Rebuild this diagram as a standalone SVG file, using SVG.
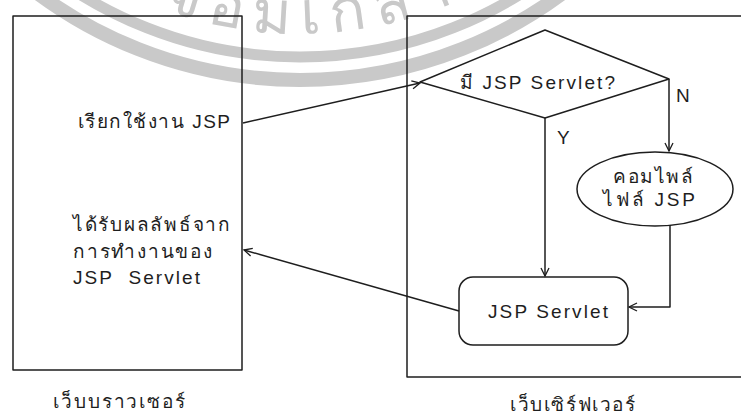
<svg xmlns="http://www.w3.org/2000/svg" width="741" height="416" viewBox="0 0 741 416">
<style>
.ln{fill:none;stroke:#1e1e1e;stroke-width:1.5;stroke-linejoin:round}
.t{font-family:"Liberation Sans","Noto Sans",sans-serif;font-size:19px;fill:#1e1e1e}
.c{text-anchor:middle}
.wm{fill:none;stroke:#c9c9c9}
</style>
<defs>
<marker id="ah" markerUnits="userSpaceOnUse" markerWidth="12" markerHeight="12" refX="9" refY="5" orient="auto">
<path d="M1,1 L9,5 L1,9" fill="none" stroke="#1e1e1e" stroke-width="1.3"/>
</marker>
<path id="wmArc" d="M -60,-200 A 394 394 0 0 0 660,-200"/>
</defs>
<rect width="741" height="416" fill="#ffffff"/>
<g id="watermark">
<path class="wm" stroke-width="14" d="M -140,-360 A 440 440 0 0 0 740,-360"/>
<path class="wm" stroke-width="11" d="M -117,-360 A 417 417 0 0 0 717,-360"/>
<text font-family="Liberation Sans, Noto Sans, sans-serif" font-size="60" letter-spacing="10" fill="#c9c9c9"><textPath href="#wmArc" startOffset="180">พระจอมเกล้าธนบุรี</textPath></text>
</g>
<g id="browser">
<rect class="ln" x="13" y="16" width="229" height="354"/>
<text class="t" x="78" y="128" textLength="152">เรียกใช้งาน JSP</text>
<text class="t" x="73" y="231" textLength="157">ได้รับผลลัพธ์จาก</text>
<text class="t" x="73" y="258" textLength="139">การทำงานของ</text>
<text class="t" x="73" y="284" textLength="127" xml:space="preserve">JSP  Servlet</text>
<text class="t" x="53" y="408" textLength="132">เว็บบราวเซอร์</text>
</g>
<g id="server">
<path class="ln" d="M745,16 H407 V377 H745"/>
<text class="t" x="510" y="411" textLength="125">เว็บเซิร์ฟเวอร์</text>
</g>
<g id="decision">
<polygon class="ln" points="545,30 669,79 545,118 420,82"/>
<text class="t" x="460" y="89" textLength="155">มี JSP Servlet?</text>
</g>
<g id="compile">
<ellipse class="ln" cx="655" cy="189" rx="78" ry="37"/>
<text class="t" x="613" y="183" textLength="80">คอมไพล์</text>
<text class="t" x="603" y="206" textLength="92">ไฟล์ JSP</text>
</g>
<g id="servlet">
<rect class="ln" x="459" y="277" width="169" height="68" rx="14"/>
<text class="t" x="488" y="318" textLength="120">JSP Servlet</text>
</g>
<g id="connectors">
<path class="ln" d="M243,123 L420,83" marker-end="url(#ah)"/>
<path class="ln" d="M545,118 V276" marker-end="url(#ah)"/>
<path class="ln" d="M669,79 V151" marker-end="url(#ah)"/>
<path class="ln" d="M670,226 V307 H629" marker-end="url(#ah)"/>
<path class="ln" d="M459,311 L244,250" marker-end="url(#ah)"/>
<text class="t" x="676" y="102">N</text>
<text class="t" x="557" y="144">Y</text>
</g>
</svg>
